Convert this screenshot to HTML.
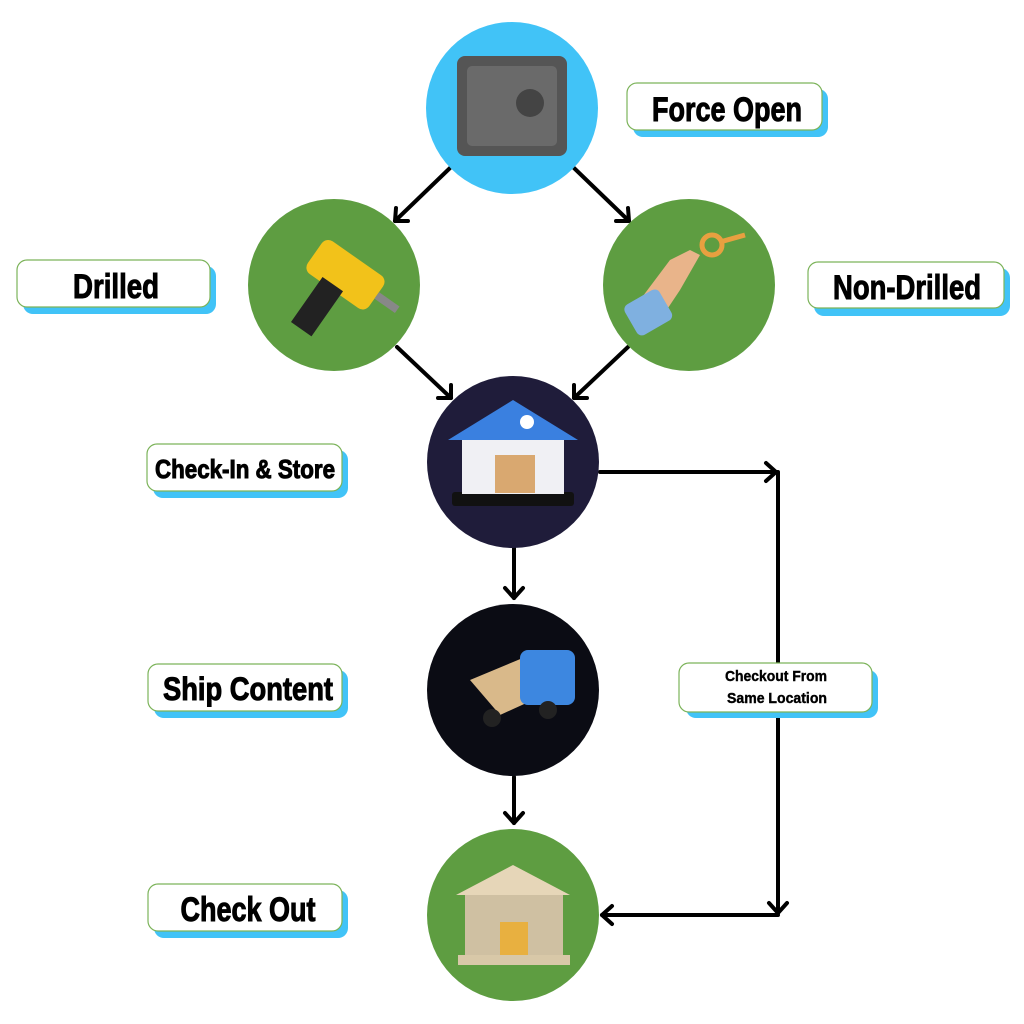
<!DOCTYPE html>
<html><head><meta charset="utf-8"><style>html,body{margin:0;padding:0;background:#fff}svg{display:block}</style></head>
<body>
<svg width="1024" height="1024" viewBox="0 0 1024 1024" xmlns="http://www.w3.org/2000/svg" font-family="'Liberation Sans Narrow','Liberation Sans',sans-serif" font-weight="bold">
<g stroke="#000" stroke-width="4" fill="none" stroke-linecap="round" stroke-linejoin="round">
<line x1="450" y1="168" x2="395" y2="221"/><polyline points="396,208 395,221 408,221"/>
<line x1="574" y1="168" x2="629" y2="221"/><polyline points="616,221 629,221 628,208"/>
<line x1="397" y1="347" x2="451" y2="398"/><polyline points="438,398 451,398 451,385"/>
<line x1="628" y1="347" x2="574" y2="398"/><polyline points="574,385 574,398 587,398"/>
<line x1="600" y1="472" x2="777" y2="472"/><polyline points="766,463 776,472 766,481"/>
<line x1="778" y1="472" x2="778" y2="913"/><polyline points="769,903 778,913 787,903"/>
<line x1="778" y1="915" x2="602" y2="915"/><polyline points="612,906 602,915 612,924"/>
<line x1="514" y1="548" x2="514" y2="598"/><polyline points="505,588 514,598 523,588"/>
<line x1="514" y1="777" x2="514" y2="823"/><polyline points="505,813 514,823 523,813"/>
</g>
<circle cx="512" cy="108" r="86" fill="#41c3f7"/>
<circle cx="334" cy="285" r="86" fill="#5e9d41"/>
<circle cx="689" cy="285" r="86" fill="#5e9d41"/>
<circle cx="513" cy="462" r="86" fill="#1f1c3a"/>
<circle cx="513" cy="690" r="86" fill="#0b0c14"/>
<circle cx="513" cy="915" r="86" fill="#5e9d41"/>
<rect x="457" y="56" width="110" height="100" rx="8" fill="#555"/><rect x="467" y="66" width="90" height="80" rx="5" fill="#6a6a6a"/><circle cx="530" cy="103" r="14" fill="#444"/>
<g transform="rotate(35 334 285)"><rect x="300" y="250" width="75" height="40" rx="8" fill="#f2c21a"/><rect x="320" y="285" width="25" height="55" fill="#222"/><rect x="375" y="265" width="25" height="8" fill="#888"/></g>
<path d="M640 300 L670 260 L690 250 L700 255 L680 290 L660 320 Z" fill="#e9b48a"/><rect x="628" y="295" width="40" height="35" rx="6" fill="#7fb0e0" transform="rotate(-30 648 312)"/><circle cx="712" cy="245" r="10" fill="none" stroke="#e8a040" stroke-width="5"/><line x1="720" y1="242" x2="745" y2="235" stroke="#e8a040" stroke-width="5"/>
<rect x="452" y="492" width="122" height="14" rx="3" fill="#111"/><rect x="462" y="438" width="102" height="56" fill="#f0f0f4"/><path d="M448 440 L513 400 L578 440 Z" fill="#3a80e0"/><circle cx="527" cy="422" r="7" fill="#fff"/><rect x="495" y="455" width="40" height="38" fill="#d9a870"/>
<path d="M470 680 L530 655 L555 690 L500 715 Z" fill="#d9b98a"/><rect x="520" y="650" width="55" height="55" rx="8" fill="#3d87e0"/><circle cx="492" cy="718" r="9" fill="#222"/><circle cx="548" cy="710" r="9" fill="#222"/>
<rect x="458" y="955" width="112" height="10" fill="#d8c8a8"/><path d="M456 895 L513 865 L570 895 Z" fill="#e6d6b8"/><rect x="465" y="895" width="98" height="60" fill="#cfc0a2"/><rect x="500" y="922" width="28" height="33" fill="#e8b040"/>
<g stroke="#000" stroke-width="1">
<g><rect x="633" y="89" width="195" height="48" rx="10" fill="#41c3f7" stroke="none"/><rect x="627" y="83" width="195" height="47" rx="10" fill="#fff" stroke="#7cb35a" stroke-width="1.2"/><text x="727" y="121" text-anchor="middle" font-size="34" textLength="150" lengthAdjust="spacingAndGlyphs">Force Open</text></g>
<g><rect x="23" y="266" width="193" height="48" rx="10" fill="#41c3f7" stroke="none"/><rect x="17" y="260" width="193" height="47" rx="10" fill="#fff" stroke="#7cb35a" stroke-width="1.2"/><text x="116" y="298" text-anchor="middle" font-size="34" textLength="86" lengthAdjust="spacingAndGlyphs">Drilled</text></g>
<g><rect x="814" y="268" width="196" height="48" rx="10" fill="#41c3f7" stroke="none"/><rect x="808" y="262" width="196" height="46" rx="10" fill="#fff" stroke="#7cb35a" stroke-width="1.2"/><text x="907" y="299" text-anchor="middle" font-size="34" textLength="148" lengthAdjust="spacingAndGlyphs">Non-Drilled</text></g>
<g><rect x="153" y="450" width="195" height="48" rx="10" fill="#41c3f7" stroke="none"/><rect x="147" y="444" width="195" height="47" rx="10" fill="#fff" stroke="#7cb35a" stroke-width="1.2"/><text x="245" y="478" text-anchor="middle" font-size="26" textLength="180" lengthAdjust="spacingAndGlyphs">Check-In &amp; Store</text></g>
<g><rect x="154" y="670" width="194" height="48" rx="10" fill="#41c3f7" stroke="none"/><rect x="148" y="664" width="194" height="47" rx="10" fill="#fff" stroke="#7cb35a" stroke-width="1.2"/><text x="248" y="700" text-anchor="middle" font-size="32" textLength="170" lengthAdjust="spacingAndGlyphs">Ship Content</text></g>
<g><rect x="154" y="890" width="194" height="48" rx="10" fill="#41c3f7" stroke="none"/><rect x="148" y="884" width="194" height="47" rx="10" fill="#fff" stroke="#7cb35a" stroke-width="1.2"/><text x="248" y="921" text-anchor="middle" font-size="34" textLength="135" lengthAdjust="spacingAndGlyphs">Check Out</text></g>
<g><rect x="686" y="670" width="192" height="48" rx="10" fill="#41c3f7" stroke="none"/><rect x="679" y="663" width="193" height="49" rx="10" fill="#fff" stroke="#7cb35a" stroke-width="1.2"/><text x="776" y="681" text-anchor="middle" font-size="15" textLength="102" lengthAdjust="spacingAndGlyphs" stroke-width="0.4">Checkout From</text><text x="777" y="703" text-anchor="middle" font-size="15" textLength="100" lengthAdjust="spacingAndGlyphs" stroke-width="0.4">Same Location</text></g>
</g>
</svg>
</body></html>
